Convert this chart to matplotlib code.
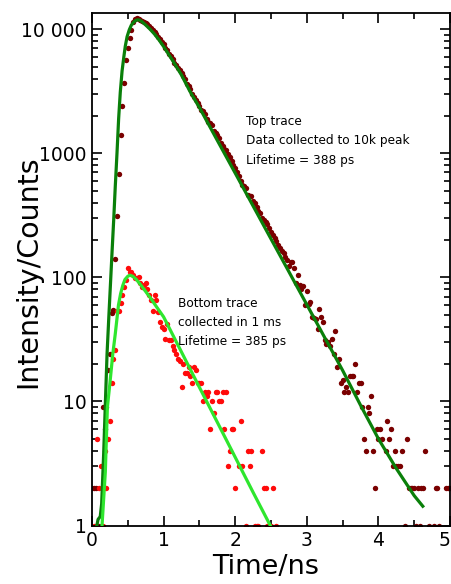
import numpy as np
import matplotlib
matplotlib.use("Agg")
import matplotlib.pyplot as plt
from matplotlib.ticker import FixedLocator, FixedFormatter, MultipleLocator, LogLocator, NullFormatter

# TCSPC decay data, one value per time channel
channel_ns = 0.025

top_counts = [
    2, 2, 2, 1, 1, 0, 9, 6, 9, 18, 24,
    52, 55, 140, 310, 680, 1400, 2400, 3700, 5600, 7100,
    8500, 9900, 11500, 12100, 12200, 12000, 11900, 11700, 11500, 11300,
    11100, 10600, 10300, 9800, 9500, 9100, 8700, 8300, 7900, 7550,
    7100, 6800, 6300, 6100, 5700, 5300, 5150, 4900, 4650, 4400,
    4200, 3950, 3600, 3500, 3300, 3000, 2850, 2700, 2550, 2400,
    2250, 2180, 2060, 1900, 1800, 1740, 1690, 1520, 1450, 1400,
    1330, 1210, 1150, 1090, 1060, 990, 940, 860, 810, 760,
    700, 650, 600, 557, 545, 520, 462, 455, 449, 410,
    396, 372, 345, 330, 300, 291, 280, 268, 249, 232,
    220, 206, 195, 183, 172, 162, 157, 145, 138, 124,
    133, 133, 118, 90, 105, 87, 80, 85, 60, 78,
    61, 63, 48, 47, 46, 38, 56, 48, 44, 31,
    29, 30, 28, 32, 24, 37, 19, 22, 14, 15,
    12, 13, 12, 16, 16, 16, 20, 12, 14, 14,
    9, 5, 4, 9, 8, 11, 4, 2, 6, 5,
    6, 5, 0, 4, 7, 5, 6, 3, 4, 3,
    3, 3, 4, 0, 1, 5, 2, 2, 2, 2,
    1, 2, 1, 2, 2, 4, 0, 1, 0, 0,
    1, 2, 2, 1, 0, 0, 0, 2, 2, 2,
]

bottom_counts = [
    0, 1, 1, 5, 2, 3, 1, 4, 2, 5, 7,
    14, 22, 26, 54, 54, 62, 72, 84, 95, 119,
    111, 111, 104, 98, 98, 101, 90, 84, 87, 90,
    80, 72, 66, 54, 72, 66, 53, 44, 40, 38,
    32, 42, 31, 31, 28, 26, 24, 22, 21, 13,
    20, 17, 17, 19, 16, 14, 19, 18, 14, 14,
    14, 10, 12, 11, 12, 6, 10, 8, 12, 12,
    10, 10, 12, 6, 12, 3, 4, 6, 6, 2,
    0, 3, 7, 3, 0, 1, 4, 3, 4, 0,
    1, 1, 1, 0, 4, 2, 2, 1, 0, 1, 2, 0, 1,
]

# fitted curves
top_fit_t = [0.06, 0.085, 0.115, 0.135, 0.163, 0.19, 0.21, 0.235, 0.256, 0.28,
             0.303, 0.325, 0.349, 0.372, 0.395, 0.42, 0.445, 0.465, 0.49, 0.521,
             0.55, 0.582, 0.615, 0.642, 0.67, 0.698, 0.75, 0.814, 0.875, 0.932,
             1.0, 1.125, 1.25, 1.375, 1.5, 1.75, 2.0, 2.25, 2.5, 2.75,
             3.0, 3.25, 3.5, 3.75, 4.0, 4.25, 4.5, 4.62]
top_fit_y = [0.95, 1.12, 1.18, 1.5, 3.8, 11, 24, 48, 84, 160,
             290, 540, 1000, 1900, 3100, 4600, 6000, 7300, 8700, 9900,
             10800, 11400, 11800, 11900, 11800, 11500, 10800, 9950, 9100, 8250,
             7250, 5600, 4270, 3100, 2340, 1270, 692, 376, 204, 111,
             60.3, 32.7, 17.8, 9.33, 5.0, 2.88, 1.74, 1.43]

bot_fit_t = [0.14, 0.186, 0.215, 0.25, 0.29, 0.325, 0.37, 0.40, 0.43, 0.46,
             0.50, 0.53, 0.57, 0.62, 0.70, 0.81, 0.90, 1.0, 1.25, 1.5,
             1.75, 2.0, 2.25, 2.49, 2.55]
bot_fit_y = [1.0, 2.7, 9, 14, 24, 35, 60, 74, 86, 96,
             102, 104, 102, 96, 84, 69, 58, 48, 25, 13,
             6.8, 3.55, 1.85, 1.0, 0.85]

xtick_vals = [0, 1, 2, 3, 4, 5]
xtick_labels = ["0", "1", "2", "3", "4", "5"]
ytick_vals = [1, 10, 100, 1000, 10000]
ytick_labels = ["1", "10", "100", "1000", "10 000"]

top_lines = ["Top trace", "Data collected to 10k peak", "Lifetime = 388 ps"]
bottom_lines = ["Bottom trace", "collected in 1 ms", "Lifetime = 385 ps"]

top_t = np.arange(len(top_counts)) * channel_ns
bot_t = np.arange(len(bottom_counts)) * channel_ns
top_c = np.array(top_counts, dtype=float)
bot_c = np.array(bottom_counts, dtype=float)

fig = plt.figure(figsize=(4.52, 5.84), dpi=100)
ax = fig.add_axes([92 / 452, 58.5 / 584, 358 / 452, 512.5 / 584])

ax.scatter(top_t[top_c > 0], top_c[top_c > 0], s=15, color="#7a0000", linewidths=0, zorder=2)
ax.scatter(bot_t[bot_c > 0], bot_c[bot_c > 0], s=15, color="#ff0a0a", linewidths=0, zorder=2)
ax.plot(top_fit_t, top_fit_y, color="#0a800a", lw=2.3, zorder=3)
ax.plot(bot_fit_t, bot_fit_y, color="#2ee62e", lw=2.3, zorder=3)

ax.set_yscale("log")
ax.set_xlim(0, 5)
ax.set_ylim(1, 13500)

ax.yaxis.set_major_locator(FixedLocator(ytick_vals))
ax.yaxis.set_major_formatter(FixedFormatter(ytick_labels))
ax.yaxis.set_minor_locator(LogLocator(base=10, subs=np.arange(2, 10)))
ax.yaxis.set_minor_formatter(NullFormatter())
ax.set_xticks(xtick_vals)
ax.set_xticklabels(xtick_labels)
ax.xaxis.set_minor_locator(MultipleLocator(0.5))

ax.tick_params(which="both", direction="in", top=True, right=True, width=1.2, labelsize=13.5, pad=4)
ax.tick_params(which="major", length=7)
ax.tick_params(which="minor", length=4)
for sp in ax.spines.values():
    sp.set_linewidth(1.3)

# keep the last tick label inside the figure
ax.get_xticklabels()[-1].set_horizontalalignment("right")

fig.text(28 / 452, 1 - 272 / 584, "Intensity/Counts", rotation=90, ha="center", va="center", fontsize=20.5)
fig.text(266 / 452, 1 - 567 / 584, "Time/ns", ha="center", va="center", fontsize=19.5)

for i, s in enumerate(top_lines):
    ax.text(0.43, 0.789 - i * 0.038, s, transform=ax.transAxes, ha="left", va="center", fontsize=8.7)
for i, s in enumerate(bottom_lines):
    ax.text(0.24, 0.434 - i * 0.037, s, transform=ax.transAxes, ha="left", va="center", fontsize=8.7)

fig.savefig("out.png", dpi=100)
